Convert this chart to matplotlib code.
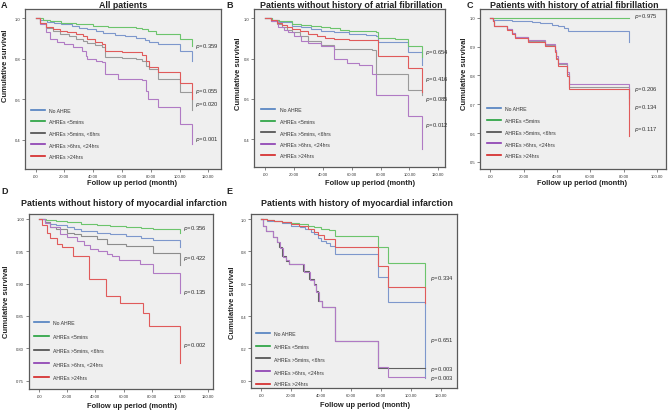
import matplotlib
matplotlib.use('Agg')
import matplotlib.pyplot as plt
from matplotlib.lines import Line2D

plt.rcParams['font.family'] = ['Liberation Sans Narrow', 'Liberation Sans', 'DejaVu Sans']
plt.rcParams['mathtext.fontset'] = 'custom'
plt.rcParams['mathtext.it'] = 'Liberation Sans Narrow:italic'
plt.rcParams['mathtext.rm'] = 'Liberation Sans Narrow'

W, H = 668, 414

LABELS = ["No AHRE", "AHREs <5mins", "AHREs >5mins, <6hrs", "AHREs >6hrs, <24hrs", "AHREs >24hrs"]

# ---------------- Panel A: All patients ----------------
A_NO = [(0, 1.0), (3, .99), (8, .983), (13, .977), (18, .97), (25, .962), (30, .952), (36, .945), (42, .935),
        (47, .925), (55, .918), (62, .91), (70, .902), (76, .895), (79, .883), (85, .873), (100, .836), (109, .79)]
A_LT5 = [(0, 1.0), (5, .99), (10, .985), (18, .975), (28, .97), (40, .962), (50, .958), (60, .955), (70, .95),
         (74, .947), (78, .935), (84, .922), (100, .898), (109, .864)]
A_5M6H = [(0, 1.0), (3, .975), (7, .95), (12, .935), (17, .922), (23, .91), (28, .898), (33, .89), (36, .88),
          (41, .87), (46, .856), (48, .807), (60, .803), (70, .80), (74, .788), (77, .765), (78.5, .749),
          (85, .70), (100, .634), (109, .548)]
A_6H24H = [(0, 1.0), (3, .97), (7, .93), (10, .898), (15, .885), (20, .873), (26, .86), (32, .84), (35, .815),
           (36, .80), (42, .79), (46, .782), (48, .724), (57, .70), (74, .695), (77, .64), (78, .60),
           (85, .559), (100, .477), (109, .378)]
A_GT24 = [(0, 1.0), (3, .975), (7, .955), (12, .948), (17, .939), (22, .932), (28, .922), (33, .91), (36, .898),
          (41, .885), (46, .873), (48, .84), (60, .835), (70, .832), (74, .818), (77, .79), (78.5, .757),
          (85, .736), (100, .678), (109, .60)]
A_P = ["0.359", "0.055", "0.020", "0.001"]
A_P_Y = [0.866, 0.644, 0.576, 0.407]

# ---------------- Panel B: without AF ----------------
B_NO = [(0, 1.0), (5, .99), (10, .982), (18.5, .964), (25, .955), (32, .945), (39, .939), (48, .93), (58, .922),
        (70, .918), (77, .914), (78.5, .881), (99, .831), (109, .77)]
B_LT5 = [(0, 1.0), (5, .99), (10, .985), (18.5, .972), (25, .966), (32, .96), (39, .955), (45, .95), (52, .944),
         (58, .939), (65, .935), (77, .93), (78, .90), (90, .895), (99, .864), (109, .81)]
B_5M6H = [(0, 1.0), (4, .985), (8, .97), (11.5, .955), (15, .94), (18.5, .93), (24, .91), (30, .889), (39, .868),
          (48, .848), (60, .846), (74, .845), (77, .724), (99, .646), (109, .62)]
B_6H24H = [(0, 1.0), (4, .985), (9, .955), (13, .94), (16, .93), (20, .91), (25, .889), (30, .875), (39, .864),
           (48, .798), (57, .779), (65, .77), (74, .724), (77, .617), (99, .517), (109, .352)]
B_GT24 = [(0, 1.0), (4, .99), (8, .975), (11.5, .966), (15, .955), (18.5, .947), (24, .935), (30, .922),
          (36, .91), (41.5, .90), (48, .897), (58, .894), (70, .892), (78, .815), (99, .752), (109, .633)]
B_P = ["0.654", "0.416", "0.085", "0.012"]
B_P_Y = [0.836, 0.70, 0.60, 0.472]

# ---------------- Panel C: with AF ----------------
C_NO = [(0, 1.0), (1.7, .994), (8, .992), (12.7, .99), (18, .988), (24.7, .985), (30, .983), (32.6, .981),
        (37, .977), (40.6, .973), (44, .965), (46.6, .953), (83.5, .915)]
C_LT5 = [(0, 1.0), (83.5, 1.0)]
C_5M6H = [(0, 1.0), (1.7, .99), (2.3, .973), (9.7, .961), (12.7, .946), (14.7, .932), (22.7, .92), (32.6, .906),
          (38.8, .884), (39.5, .862), (40.6, .839), (45.7, .805), (47, .761), (83.5, .70)]
C_6H24H = [(0, 1.0), (1.7, .99), (2.3, .973), (9.7, .962), (12.7, .948), (14.7, .935), (22.7, .924), (32.6, .91),
           (38.8, .888), (39.5, .866), (40.6, .845), (45.7, .813), (47, .769), (83.5, .72)]
C_GT24 = [(0, 1.0), (1.7, .99), (2.3, .973), (9.7, .959), (12.7, .944), (14.7, .929), (22.7, .917), (32.6, .903),
          (38.8, .88), (39.5, .857), (40.6, .833), (45.7, .798), (47, .752), (83.5, .589)]
C_P = ["0.975", "0.206", "0.134", "0.117"]
C_P_Y = [1.008, 0.756, 0.692, 0.616]

# ---------------- Panel D: without MI ----------------
D_NO = [(0, 1.0), (4, .996), (7.8, .992), (12, .99), (19.6, .987), (25, .984), (30, .982), (40.8, .979),
        (50, .976), (62, .974), (72, .971), (81, .968), (90, .967), (99.9, .956)]
D_LT5 = [(0, 1.0), (5, .998), (12, .997), (19.6, .995), (30, .993), (40.8, .991), (50, .989), (62, .987),
         (72, .986), (81, .985), (90, .984), (99.9, .979)]
D_5M6H = [(0, 1.0), (4, .995), (7.8, .988), (12, .984), (19.6, .979), (25, .976), (30, .973), (40.8, .969),
          (48, .961), (62, .958), (81, .948), (99.9, .929)]
D_6H24H = [(0, 1.0), (4, .994), (7.8, .987), (15, .977), (20, .972), (26.7, .966), (32, .96), (36, .954),
           (42, .95), (48, .946), (52, .942), (57, .936), (71.5, .931), (81, .916), (99.9, .885)]
D_GT24 = [(0, 1.0), (2, .99), (5.4, .979), (8, .97), (12.5, .961), (16, .956), (24, .943), (35.7, .907),
          (47.5, .881), (57.4, .870), (74, .854), (78, .835), (99.9, .777)]
D_P = ["0.356", "0.422", "0.135", "0.002"]
D_P_Y = [0.987, 0.941, 0.8875, 0.806]

# ---------------- Panel E: with MI ----------------
E_NO = [(0, 1.0), (4, .99), (8.5, .986), (14, .975), (19.8, .959), (26, .948), (29, .938), (33, .92), (35.5, .907),
        (38, .885), (40, .866), (43, .85), (46, .835), (49, .784), (77.7, .639), (84.8, .485), (109.5, .015)]
E_LT5 = [(0, 1.0), (4, .995), (8.5, .99), (14, .982), (19.8, .973), (25, .967), (31, .959), (35, .95), (40, .938),
         (45, .93), (49, .897), (77.7, .825), (84.8, .728), (109.5, .577)]
E_5M6H = [(0, 1.0), (1.3, .959), (3, .924), (8, .887), (10.8, .856), (12, .825), (14, .773), (16.4, .742),
          (18.6, .722), (27.6, .68), (32, .629), (35.5, .598), (36.5, .557), (37.7, .495), (40.4, .454),
          (49, .247), (77.7, .077), (109.5, .077)]
E_6H24H = [(0, 1.0), (1.3, .959), (3, .924), (8, .887), (10.8, .856), (12.3, .82), (14.3, .765), (16.4, .745),
           (18.6, .722), (28.2, .675), (32.4, .625), (35.5, .59), (36.8, .55), (38.2, .49), (40.4, .454),
           (49, .247), (77.7, .082), (84.8, .02), (109.5, .02)]
E_GT24 = [(0, 1.0), (4, .994), (8.5, .99), (14, .98), (19.8, .969), (25, .955), (31, .938), (35, .92),
          (37.7, .903), (42, .876), (49, .829), (77.7, .711), (84.8, .577), (109.5, .48)]
E_P = ["0.334", "0.651", "0.003", "0.003"]
E_P_Y = [0.639, 0.253, 0.077, 0.020]

CURVE_COLORS = ['#7d97cc', '#6cc46c', '#9a9a9a', '#b07ac4', '#e05a5a']
LEGEND_COLORS = ['#4f7fc0', '#22a03c', '#4a4a4a', '#8a3ab0', '#d42424']

fig = plt.figure(figsize=(W / 100, H / 100), dpi=100)
fig.patch.set_facecolor('white')


def fx(x):
    return x / W


def fy(y):
    return 1 - y / H


PANELS = [
    dict(letter='A', title='All patients', curves=[A_NO, A_LT5, A_5M6H, A_6H24H, A_GT24],
         box=(25, 10, 221, 170), xlim=(-7.3, 128.8), ylim=(0.254, 1.046),
         xticks=[0, 20, 40, 60, 80, 100, 120], yticks=[0.4, 0.6, 0.8, 1.0], yfmt='%.1f',
         p=A_P, py=A_P_Y, px=111, letter_xy=(4.5, 6), title_xy=(123, 5.5), ylab_xy=(6, 66),
         xlab_xy=(132, 183.5), leg_first=106.7, leg_pitch=12.5, leg_x=30.7, gray='#9a9a9a'),
    dict(letter='B', title='Patients without history of atrial fibrillation',
         curves=[B_NO, B_LT5, B_5M6H, B_6H24H, B_GT24],
         box=(254, 10, 445, 168), xlim=(-7.6, 124.6), ylim=(0.262, 1.046),
         xticks=[0, 20, 40, 60, 80, 100, 120], yticks=[0.4, 0.6, 0.8, 1.0], yfmt='%.1f',
         p=B_P, py=B_P_Y, px=110.5, letter_xy=(229.5, 6), title_xy=(351, 5.5), ylab_xy=(239, 74),
         xlab_xy=(370, 183.5), leg_first=106, leg_pitch=12.5, leg_x=261, gray='#9a9a9a'),
    dict(letter='C', title='Patients with history of atrial fibrillation',
         curves=[C_NO, C_LT5, C_5M6H, C_6H24H, C_GT24],
         box=(480, 10, 666, 170), xlim=(-6.3, 105.5), ylim=(0.475, 1.031),
         xticks=[0, 20, 40, 60, 80, 100], yticks=[0.5, 0.6, 0.7, 0.8, 0.9, 1.0], yfmt='%.1f',
         p=C_P, py=C_P_Y, px=86.5, letter_xy=(469.5, 6), title_xy=(574, 5.5), ylab_xy=(464, 73.5),
         xlab_xy=(582, 183.5), leg_first=105, leg_pitch=12.7, leg_x=486.7, gray='#9a9a9a'),
    dict(letter='D', title='Patients without history of myocardial infarction',
         curves=[D_NO, D_LT5, D_5M6H, D_6H24H, D_GT24],
         box=(29, 215, 213, 390), xlim=(-7.1, 123.4), ylim=(0.737, 1.0077),
         xticks=[0, 20, 40, 60, 80, 100, 120], yticks=[0.75, 0.80, 0.85, 0.90, 0.95, 1.00], yfmt='%.2f',
         p=D_P, py=D_P_Y, px=102, letter_xy=(5, 192), title_xy=(124, 203.5), ylab_xy=(7, 302),
         xlab_xy=(132, 406.5), leg_first=319, leg_pitch=14.7, leg_x=34.3, gray='#8c8c8c'),
    dict(letter='E', title='Patients with history of myocardial infarction',
         curves=[E_NO, E_LT5, E_5M6H, E_6H24H, E_GT24],
         box=(251.3, 215, 457, 389), xlim=(-6.7, 130.7), ylim=(-0.045, 1.031),
         xticks=[0, 20, 40, 60, 80, 100, 120], yticks=[0.0, 0.2, 0.4, 0.6, 0.8, 1.0], yfmt='%.1f',
         p=E_P, py=E_P_Y, px=112.5, letter_xy=(229, 192), title_xy=(357, 203.5), ylab_xy=(232, 303),
         xlab_xy=(365, 406), leg_first=330, leg_pitch=13.6, leg_x=256, gray='#606060'),
]

DRAW_ORDER = [0, 1, 2, 3, 4]

for P in PANELS:
    x1, y1, x2, y2 = P['box']
    ax = fig.add_axes([fx(x1), fy(y2), (x2 - x1) / W, (y2 - y1) / H])
    ax.set_facecolor('#efefef')
    for s in ax.spines.values():
        s.set_color('#5a5a5a')
        s.set_linewidth(0.9)
    colors = list(CURVE_COLORS)
    colors[2] = P['gray']
    for i in DRAW_ORDER:
        pts = P['curves'][i]
        t = [p[0] for p in pts]
        v = [p[1] for p in pts]
        ax.step(t, v, where='post', color=colors[i], lw=0.8, solid_joinstyle='miter')
    ax.set_xlim(*P['xlim'])
    ax.set_ylim(*P['ylim'])
    ax.set_xticks(P['xticks'])
    ax.set_xticklabels(['.00' if v == 0 else '%.2f' % v for v in P['xticks']])
    ax.set_yticks(P['yticks'])
    ax.set_yticklabels([P['yfmt'] % v for v in P['yticks']])
    ax.tick_params(axis='both', labelsize=3.0, length=2, width=0.5, color='#555555',
                   labelcolor='#333333', pad=1.5)
    # p-values
    for lab, yv in zip(P['p'], P['py']):
        ax.text(P['px'], yv, r'$\it{p}$=' + lab, fontsize=4.2, color='#333333', va='center', ha='left')
    # legend
    handles = [Line2D([], [], color=c, lw=1.2) for c in LEGEND_COLORS]
    fs_pt = 3.7
    fs_px = fs_pt * 100 / 72
    row_h = fs_px * 1.17
    lspace = (P['leg_pitch'] - row_h) / fs_px
    last_bottom = P['leg_first'] + 4 * P['leg_pitch'] + row_h / 2
    ax.legend(handles, LABELS, loc='lower left',
              bbox_to_anchor=((P['leg_x'] - x1) / (x2 - x1), (y2 - last_bottom) / (y2 - y1)),
              frameon=False, fontsize=fs_pt, labelspacing=lspace, handlelength=2.8,
              handletextpad=0.8, borderpad=0, borderaxespad=0, labelcolor='#333333')
    # texts
    fig.text(fx(P['letter_xy'][0]), fy(P['letter_xy'][1]), P['letter'], fontsize=6.5,
             fontweight='bold', ha='center', va='center', color='#222222')
    fig.text(fx(P['title_xy'][0]), fy(P['title_xy'][1]), P['title'], fontsize=6.4,
             fontweight='bold', ha='center', va='center', color='#222222')
    fig.text(fx(P['ylab_xy'][0]), fy(P['ylab_xy'][1]), 'Cumulative survival', fontsize=5.5,
             fontweight='bold', rotation=90, ha='center', va='center', color='#222222')
    fig.text(fx(P['xlab_xy'][0]), fy(P['xlab_xy'][1]), 'Follow up period (month)', fontsize=5.4,
             fontweight='bold', ha='center', va='center', color='#222222')

fig.savefig('out.png', dpi=100, facecolor='white')
